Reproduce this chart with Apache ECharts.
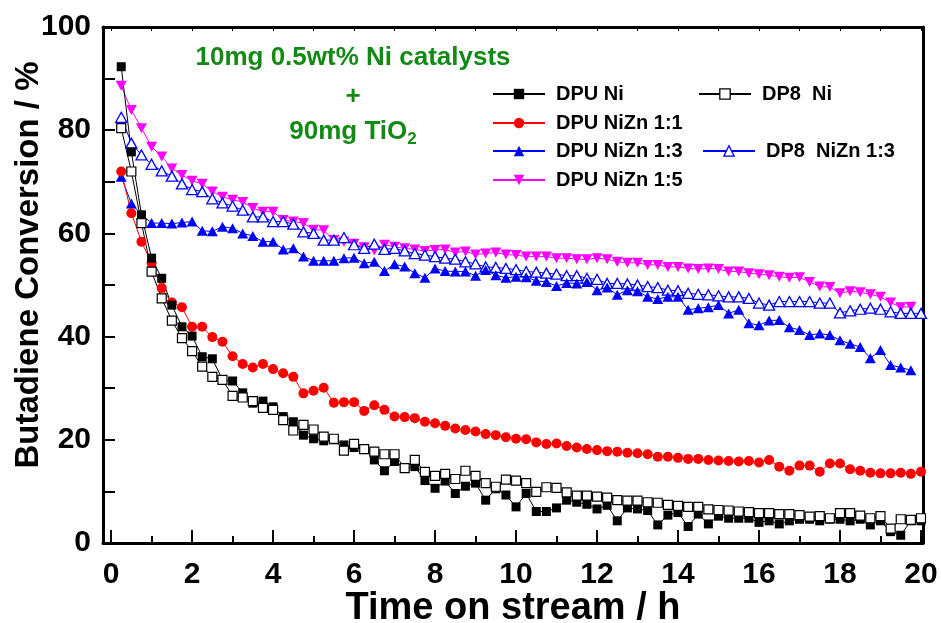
<!DOCTYPE html>
<html><head><meta charset="utf-8">
<script src="https://cdn.jsdelivr.net/npm/echarts@6/dist/echarts.min.js"></script>
<style>html,body{margin:0;padding:0;background:#fff}#c{width:941px;height:623px}</style>
</head><body><div id="c"></div>
<script>
// time on stream (h)
const times = [
  0.25,0.5,0.75,1.0,1.25,1.5,1.75,2.0,2.25,2.5,
  2.75,3.0,3.25,3.5,3.75,4.0,4.25,4.5,4.75,5.0,
  5.25,5.5,5.75,6.0,6.25,6.5,6.75,7.0,7.25,7.5,
  7.75,8.0,8.25,8.5,8.75,9.0,9.25,9.5,9.75,10.0,
  10.25,10.5,10.75,11.0,11.25,11.5,11.75,12.0,12.25,12.5,
  12.75,13.0,13.25,13.5,13.75,14.0,14.25,14.5,14.75,15.0,
  15.25,15.5,15.75,16.0,16.25,16.5,16.75,17.0,17.25,17.5,
  17.75,18.0,18.25,18.5,18.75,19.0,19.25,19.5,19.75,20.0
];
const dpuNi = [
  92.3,75.8,63.6,55.2,51.3,46.1,41.9,40.1,36.1,35.7,
  31.6,31.4,29.1,27.1,27.5,26.4,24.5,23.5,20.9,20.2,
  19.8,20.0,19.0,18.5,18.3,16.1,14.0,15.8,14.5,14.8,
  12.1,10.6,12.0,9.6,11.0,11.6,8.3,10.5,9.3,7.0,
  9.6,6.1,6.1,6.8,8.3,7.9,7.5,6.6,7.3,4.3,
  6.8,6.6,6.3,3.5,5.4,5.9,3.2,5.6,3.7,5.2,
  4.8,4.8,4.8,4.0,4.3,3.7,4.3,4.6,4.6,4.3,
  4.6,4.6,4.3,4.6,3.5,4.3,2.2,1.5,4.3,4.3
];
const dp8Ni = [
  80.4,72.0,62.0,52.6,47.4,43.1,39.7,37.2,34.2,32.2,
  31.6,28.5,28.2,27.5,26.2,25.8,23.8,21.8,22.9,22.0,
  20.6,20.2,17.9,19.2,18.2,17.7,17.2,17.2,14.5,16.1,
  13.8,13.0,13.4,12.4,14.0,13.0,11.6,10.9,12.3,12.1,
  11.6,9.9,10.8,10.7,9.8,9.2,9.2,9.0,8.8,8.3,
  8.2,8.2,7.9,7.8,7.4,7.2,7.0,7.0,6.5,6.4,
  6.3,6.1,6.0,5.8,5.8,5.6,5.6,5.4,5.1,5.2,
  4.8,5.8,5.8,5.3,4.8,5.2,2.8,4.6,4.5,4.8
];
const dpuNiZn11 = [
  72.0,63.9,58.4,54.2,49.4,46.6,45.7,41.9,41.9,39.9,
  39.0,36.2,34.7,34.0,34.7,33.7,32.9,32.2,29.0,29.5,
  30.1,27.2,27.3,27.3,25.6,26.7,25.8,24.5,24.4,24.2,
  23.5,23.2,22.7,22.2,21.9,21.6,21.1,20.9,20.5,20.2,
  20.1,19.5,19.2,19.3,18.8,18.5,18.2,18.0,17.8,17.7,
  17.5,17.4,17.2,16.7,16.7,16.5,16.3,16.3,16.1,16.0,
  15.9,15.8,15.9,15.6,16.1,14.8,14.0,15.0,15.0,13.8,
  15.4,15.4,14.3,14.0,13.6,13.5,13.5,13.6,13.4,13.8
];
const dpuNiZn13 = [
  71.0,65.8,63.6,62.0,62.0,61.9,62.1,62.3,60.5,60.4,
  61.3,61.0,60.0,59.5,58.4,58.4,56.9,57.1,55.5,54.7,
  54.7,54.7,55.2,55.3,54.2,54.5,52.7,54.0,53.6,52.3,
  51.4,53.2,52.7,52.6,52.6,51.8,52.9,51.9,51.4,51.6,
  51.5,50.8,50.6,49.8,50.4,50.3,50.6,49.0,49.5,48.1,
  49.0,48.8,47.7,47.3,47.7,47.7,45.2,45.5,45.7,46.1,
  44.5,45.2,42.6,42.2,43.1,43.2,41.8,41.3,40.3,40.6,
  40.3,39.3,38.6,38.0,35.8,37.4,34.5,34.0,33.5
];
const dp8NiZn13 = [
  82.5,77.5,75.2,73.4,72.1,71.1,69.6,68.5,68.1,66.7,
  65.9,65.3,64.5,63.2,63.2,62.3,62.3,61.8,60.3,60.0,
  58.7,58.7,59.2,57.8,57.1,57.9,56.9,57.1,56.6,56.1,
  55.8,55.5,55.2,55.0,54.5,54.1,53.5,53.4,53.2,53.0,
  52.6,52.5,52.3,52.1,51.8,51.8,51.3,51.1,50.3,50.3,
  50.2,50.0,49.7,49.5,49.0,48.9,48.4,48.2,48.1,47.9,
  47.7,47.7,47.4,46.5,46.1,46.8,46.8,46.8,46.8,46.5,
  46.5,44.6,45.0,45.3,45.5,45.3,44.8,44.5,44.5,44.5
];
const dpuNiZn15 = [
  88.6,83.9,80.4,76.8,74.9,72.6,71.3,70.2,69.6,68.1,
  67.1,66.5,66.1,64.9,64.2,64.2,62.6,62.3,62.0,60.7,
  60.6,58.7,58.4,58.0,57.3,56.7,57.8,57.4,57.1,56.9,
  56.6,56.8,56.9,56.3,56.5,55.9,56.1,56.3,55.9,55.8,
  55.5,55.5,55.5,55.2,55.2,55.0,55.0,55.2,55.0,54.5,
  54.3,54.3,53.9,53.9,53.5,53.5,53.2,53.1,53.2,53.1,
  52.6,52.6,52.3,52.1,51.9,51.6,51.4,51.5,50.6,49.7,
  49.6,48.4,48.8,48.6,48.2,47.7,46.6,45.7,45.8
];
const xTickLabels = [0,2,4,6,8,10,12,14,16,18,20];
const xMinorTicks = [1,3,5,7,9,11,13,15,17,19];
const xTopTicks = [0,1,2,3,4,5,6,7,8,9,10,11,12,13,14,15,16,17,18,19,20];
const yTickLabels = [0,20,40,60,80,100];
const yTicks = [0,10,20,30,40,50,60,70,80,90,100];

const FONT = "'Liberation Sans', Arial, sans-serif";
function pairs(vals){ return vals.map((v,i)=>[times[i], v]); }
const XMIN = -0.2, XMAX = 20.05;
const downTri = 'path://M0,0L20,0L10,18Z';
const GREEN = '#138a13';

const chart = echarts.init(document.getElementById('c'), null, {renderer:'canvas'});

function legendAt(name, left, cy){
  return {
    data:[name], left:left, top:cy-11, padding:0, orient:'vertical',
    itemWidth:52, itemHeight:13, selectedMode:false,
    itemStyle:{borderWidth:1.3},
    textStyle:{fontFamily:FONT, fontWeight:'bold', fontSize:20, color:'#000', lineHeight:22, padding:[0,0,0,6]}
  };
}

const option = {
  backgroundColor:'#fff',
  animation:false,
  grid:{left:103, right:18, top:27, bottom:80, outerBoundsMode:'none', containLabel:false},
  legend:[
    legendAt('DPU Ni', 492, 94),
    legendAt('DPU NiZn 1:1', 492, 123),
    legendAt('DPU NiZn 1:3', 492, 151),
    legendAt('DPU NiZn 1:5', 492, 180),
    legendAt('DP8  Ni', 698, 94),
    legendAt('DP8  NiZn 1:3', 702, 151)
  ],
  xAxis:[
    {type:'value', min:XMIN, max:XMAX, position:'bottom',
     axisLine:{show:true, onZero:false, lineStyle:{color:'#000', width:3}},
     axisTick:{show:true, inside:true, length:13, customValues:xTickLabels, lineStyle:{color:'#000', width:2}},
     axisLabel:{customValues:xTickLabels, margin:17, fontSize:30, fontWeight:'bold', fontFamily:FONT, color:'#000'},
     splitLine:{show:false},
     name:'Time on stream / h', nameLocation:'middle', nameGap:47, nameMoveOverlap:false,
     nameTextStyle:{fontSize:38, fontWeight:'bold', fontFamily:FONT, color:'#000'}},
    {type:'value', min:XMIN, max:XMAX, position:'bottom',
     axisLine:{show:false, onZero:false},
     axisTick:{show:true, inside:true, length:7, customValues:xMinorTicks, lineStyle:{color:'#000', width:2}},
     axisLabel:{show:false}, splitLine:{show:false}},
    {type:'value', min:XMIN, max:XMAX, position:'top',
     axisLine:{show:true, onZero:false, lineStyle:{color:'#000', width:3}},
     axisTick:{show:true, inside:true, length:4, customValues:xTopTicks, lineStyle:{color:'#000', width:1}},
     axisLabel:{show:false}, splitLine:{show:false}}
  ],
  yAxis:[
    {type:'value', min:0, max:100, position:'left',
     axisLine:{show:true, onZero:false, lineStyle:{color:'#000', width:3}},
     axisTick:{show:true, inside:true, length:12, customValues:yTicks, lineStyle:{color:'#000', width:2}},
     axisLabel:{customValues:yTickLabels, margin:12, fontSize:30, fontWeight:'bold', fontFamily:FONT, color:'#000'},
     splitLine:{show:false},
     name:'Butadiene Conversion / %', nameLocation:'middle', nameGap:58, nameMoveOverlap:false,
     nameTextStyle:{fontSize:33, fontWeight:'bold', fontFamily:FONT, color:'#000', padding:[0,0,0,40]}},
    {type:'value', min:0, max:100, position:'right',
     axisLine:{show:true, onZero:false, lineStyle:{color:'#000', width:3}},
     axisTick:{show:false}, axisLabel:{show:false}, splitLine:{show:false}}
  ],
  graphic:[
    {type:'text', x:353, y:58, style:{text:'10mg 0.5wt% Ni catalysts', align:'center', verticalAlign:'middle',
      font:"bold 26px 'Liberation Sans', Arial, sans-serif", fill:GREEN}},
    {type:'text', x:353, y:97, style:{text:'+', align:'center', verticalAlign:'middle',
      font:"bold 26px 'Liberation Sans', Arial, sans-serif", fill:GREEN}},
    {type:'text', x:353, y:132, style:{text:'90mg TiO{sub|2}', align:'center', verticalAlign:'middle',
      font:"bold 26px 'Liberation Sans', Arial, sans-serif", fill:GREEN,
      rich:{sub:{font:"bold 17px 'Liberation Sans', Arial, sans-serif", fill:GREEN, padding:[14,0,0,0]}}}}
  ],
  series:[
    {name:'DPU NiZn 1:5', type:'line', data:pairs(dpuNiZn15), symbol:downTri, symbolSize:[11,10],
     itemStyle:{color:'#ff00ff'}, lineStyle:{color:'#ff00ff', width:1}},
    {name:'DP8  NiZn 1:3', type:'line', data:pairs(dp8NiZn13), symbol:'triangle', symbolSize:[11,10],
     itemStyle:{color:'#fff', borderColor:'#0000ff', borderWidth:1.3}, lineStyle:{color:'#0000ff', width:1}},
    {name:'DPU NiZn 1:3', type:'line', data:pairs(dpuNiZn13), symbol:'triangle', symbolSize:[11,10],
     itemStyle:{color:'#0000ff'}, lineStyle:{color:'#0000ff', width:1}},
    {name:'DPU NiZn 1:1', type:'line', data:pairs(dpuNiZn11), symbol:'circle', symbolSize:10,
     itemStyle:{color:'#ff0000'}, lineStyle:{color:'#ff0000', width:1}},
    {name:'DPU Ni', type:'line', data:pairs(dpuNi), symbol:'rect', symbolSize:9,
     itemStyle:{color:'#000'}, lineStyle:{color:'#000', width:1}},
    {name:'DP8  Ni', type:'line', data:pairs(dp8Ni), symbol:'rect', symbolSize:9,
     itemStyle:{color:'#fff', borderColor:'#000', borderWidth:1.2}, lineStyle:{color:'#000', width:1}}
  ]
};
chart.setOption(option);
</script></body></html>
